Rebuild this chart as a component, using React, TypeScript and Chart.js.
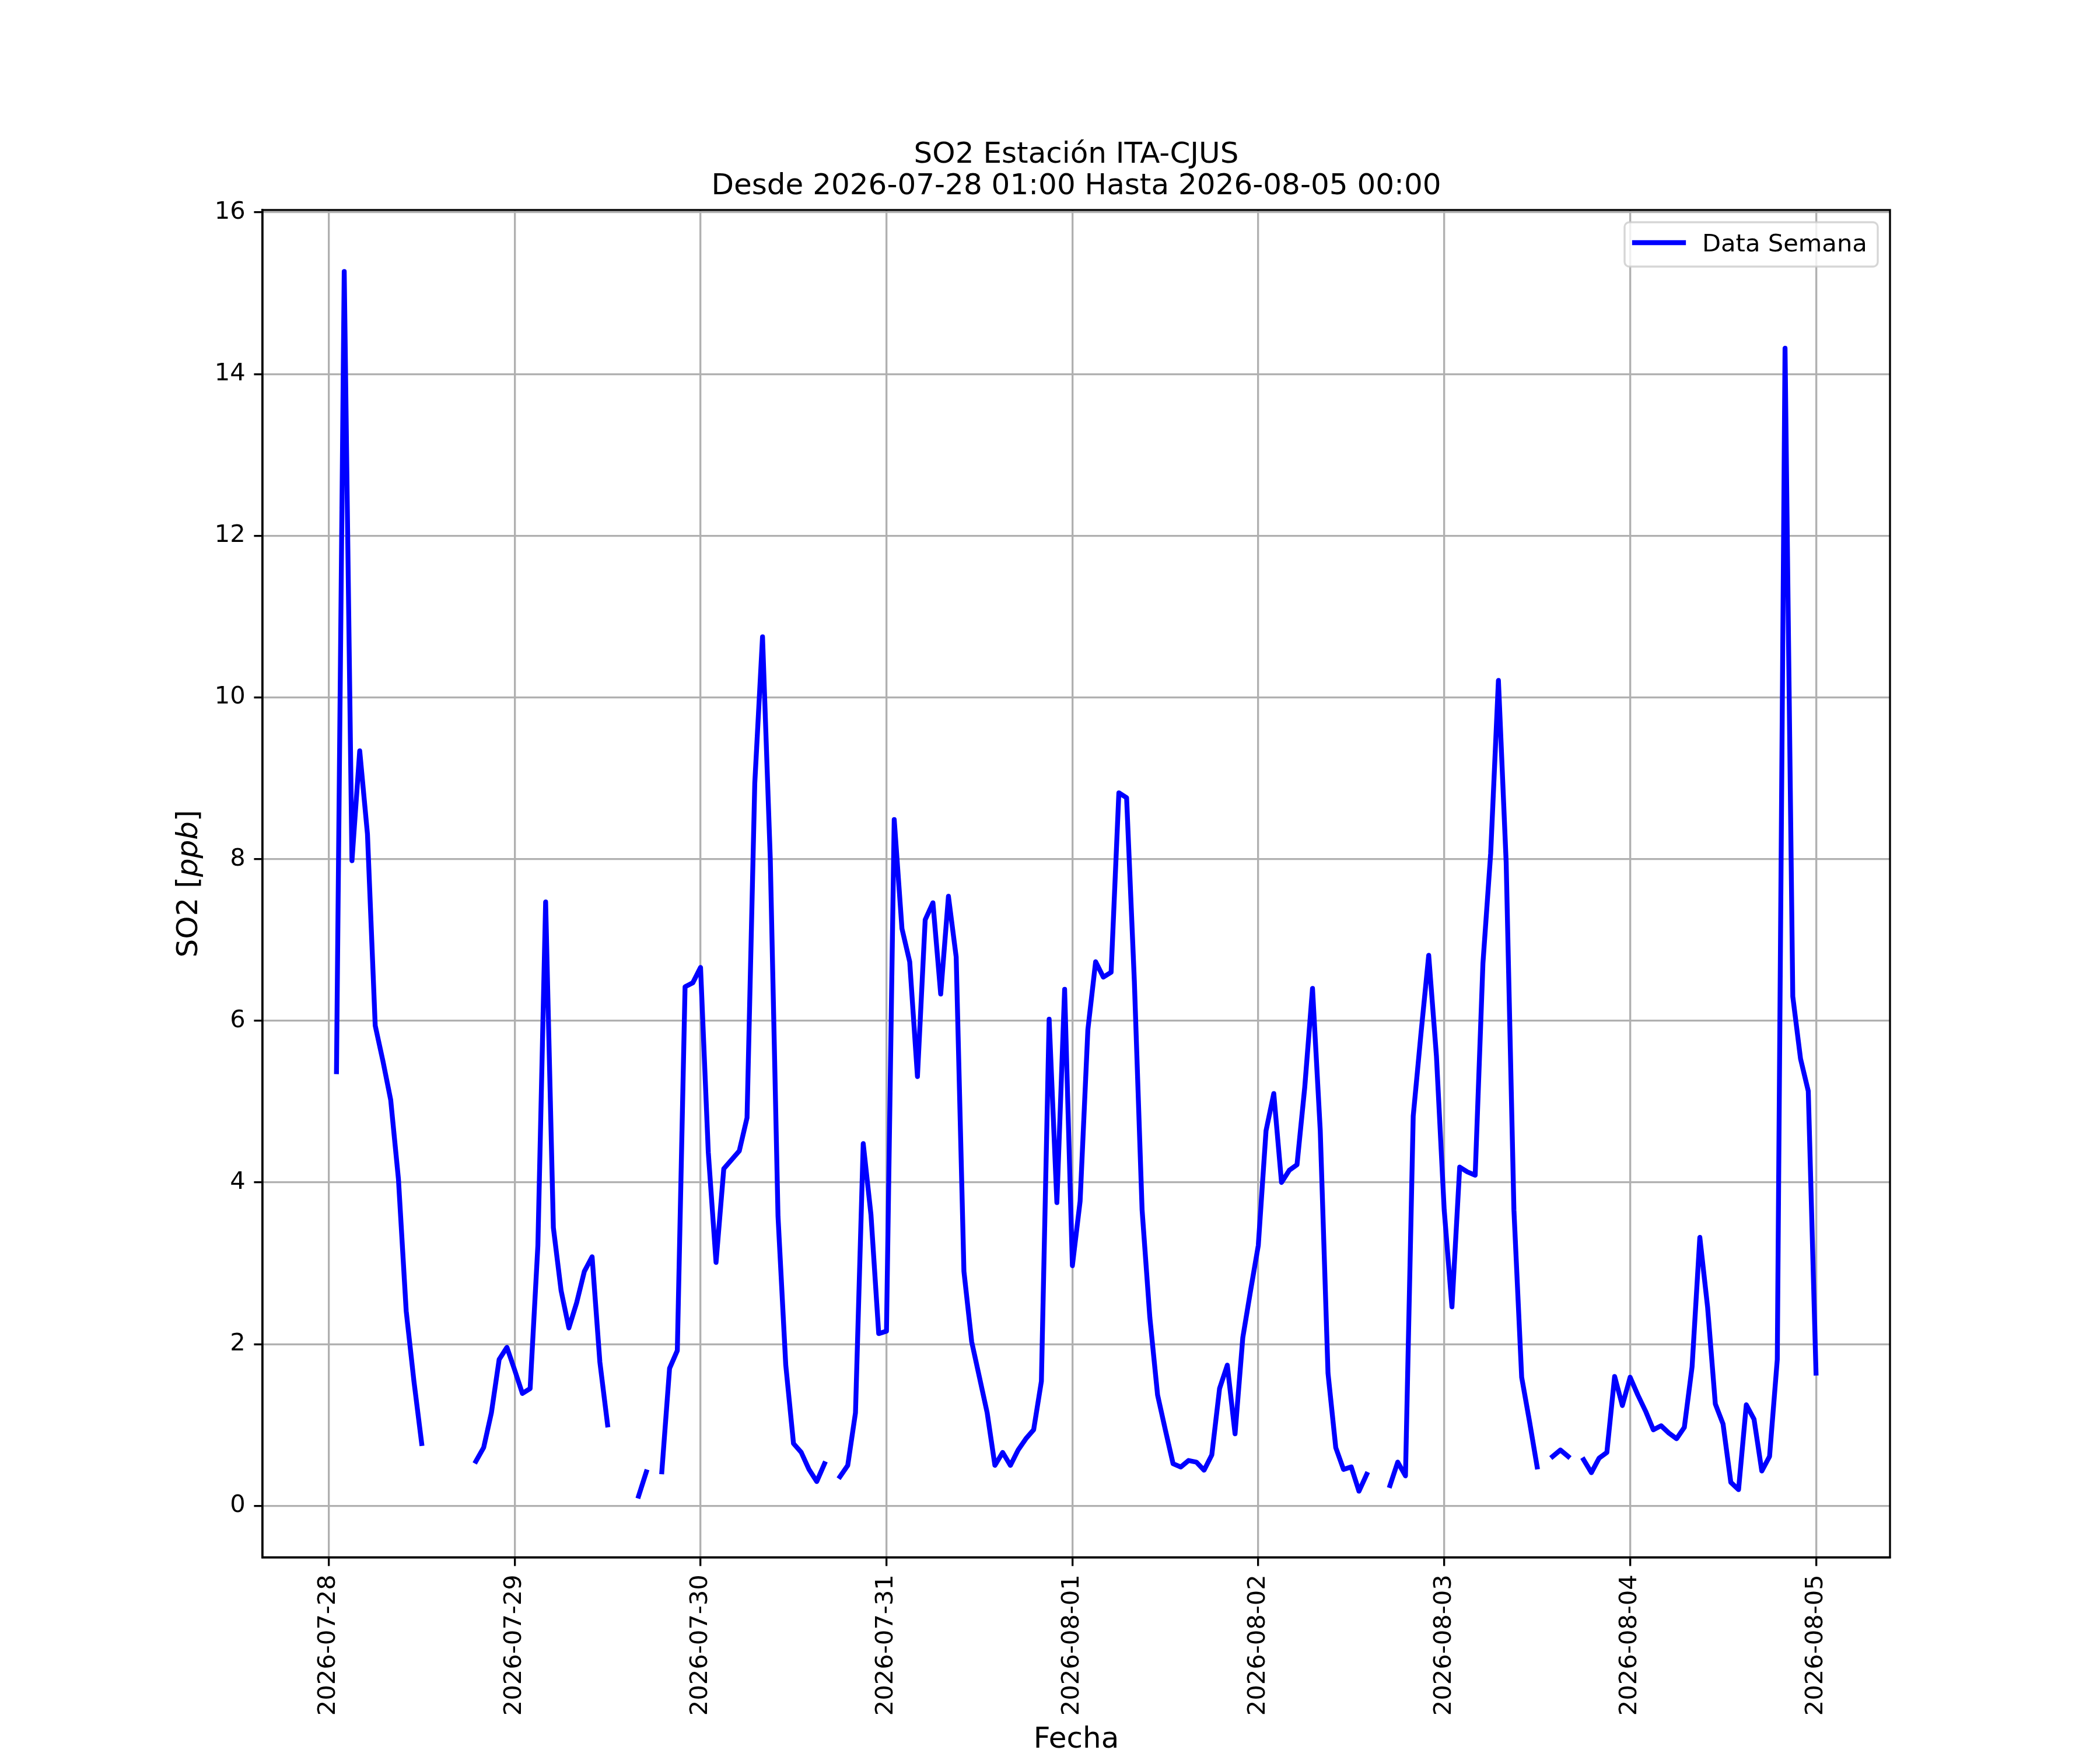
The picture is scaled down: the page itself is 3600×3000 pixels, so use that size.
import React, { useEffect, useRef } from 'react';
import Chart from 'chart.js/auto';

// fechas de los ticks (horas desde 2026-07-28 00:00)
const dayLabels = [
  '2026-07-28', '2026-07-29', '2026-07-30', '2026-07-31', '2026-08-01',
  '2026-08-02', '2026-08-03', '2026-08-04', '2026-08-05',
];
const dayTicks = [0, 24, 48, 72, 96, 120, 144, 168, 192];
const yTicks = [0, 2, 4, 6, 8, 10, 12, 14, 16];

const titleLines = ['SO2 Estación ITA-CJUS', 'Desde 2026-07-28 01:00 Hasta 2026-08-05 00:00'];
const seriesLabel = 'Data Semana';

// SO2 [ppb], un valor por hora desde 07-28 01:00 hasta 08-05 00:00 (null = sin dato)
const so2Values = [
  // 07-28
  5.37, 15.27, 7.98, 9.34, 8.31, 5.94, 5.5, 5.02, 4.04, 2.41, 1.54, 0.77,
  null, null, null, null, null, null, 0.55, 0.72, 1.15, 1.81, 1.96, 1.68,
  // 07-29
  1.39, 1.45, 3.22, 7.47, 3.44, 2.66, 2.2, 2.51, 2.9, 3.08, 1.78, 1.0,
  null, null, null, 0.12, 0.42, null, 0.42, 1.7, 1.92, 6.42, 6.47, 6.66,
  // 07-30
  4.37, 3.01, 4.17, 4.28, 4.39, 4.8, 8.94, 10.75, 8.01, 3.58, 1.74, 0.77,
  0.66, 0.45, 0.3, 0.52, null, 0.36, 0.5, 1.15, 4.48, 3.6, 2.13, 2.16,
  // 07-31
  8.49, 7.14, 6.73, 5.31, 7.25, 7.46, 6.33, 7.54, 6.79, 2.9, 2.03, 1.59,
  1.15, 0.5, 0.66, 0.5, 0.69, 0.83, 0.94, 1.54, 6.02, 3.75, 6.39, 2.97,
  // 08-01
  3.77, 5.89, 6.73, 6.54, 6.6, 8.82, 8.76, 6.49, 3.66, 2.33, 1.37, 0.94,
  0.52, 0.48, 0.56, 0.54, 0.44, 0.63, 1.45, 1.74, 0.89, 2.08, 2.66, 3.22,
  // 08-02
  4.64, 5.1, 4.0, 4.15, 4.22, 5.18, 6.4, 4.64, 1.64, 0.72, 0.45, 0.48,
  0.18, 0.39, null, null, 0.25, 0.54, 0.37, 4.82, 5.84, 6.81, 5.56, 3.66,
  // 08-03
  2.46, 4.19, 4.13, 4.09, 6.71, 8.07, 10.21, 7.96, 3.66, 1.59, 1.05, 0.48,
  null, 0.61, 0.69, 0.61, null, 0.57, 0.41, 0.59, 0.66, 1.6, 1.24, 1.59,
  // 08-04
  1.37, 1.17, 0.94, 0.99, 0.9, 0.83, 0.97, 1.72, 3.32, 2.46, 1.26, 1.01,
  0.29, 0.2, 1.25, 1.07, 0.43, 0.61, 1.81, 14.32, 6.3, 5.53, 5.13, 1.64,
];

const hours = so2Values.map((_, i) => i + 1);

const PT = 300 / 72;
const FONT = '"DejaVu Sans"';
const tickFont = { family: FONT, size: 10 * PT };

const mplDecor = {
  id: 'mplDecor',
  afterDraw(chart) {
    const { ctx, chartArea: a } = chart;
    const cx = (a.left + a.right) / 2;
    ctx.save();

    // marco de los ejes
    ctx.strokeStyle = '#000';
    ctx.lineWidth = 0.8 * PT;
    ctx.strokeRect(a.left, a.top, a.right - a.left, a.bottom - a.top);

    // titulo
    ctx.fillStyle = '#000';
    ctx.textAlign = 'center';
    ctx.textBaseline = 'alphabetic';
    ctx.font = `${12 * PT}px ${FONT}`;
    ctx.fillText(titleLines[0], cx, a.top - 81);
    ctx.fillText(titleLines[1], cx, a.top - 27);

    // eje x
    ctx.fillText('Fecha', cx, a.bottom + 326);

    // eje y: SO2 [$ppb$]
    ctx.save();
    ctx.translate(a.left - 112, (a.top + a.bottom) / 2);
    ctx.rotate(-Math.PI / 2);
    ctx.textAlign = 'left';
    const normal = `${12 * PT}px ${FONT}`;
    const italic = `italic ${12 * PT}px ${FONT}`;
    ctx.font = normal;
    const w1 = ctx.measureText('SO2 [').width;
    const w3 = ctx.measureText(']').width;
    ctx.font = italic;
    const w2 = ctx.measureText('ppb').width;
    let x = -(w1 + w2 + w3) / 2;
    ctx.font = normal;
    ctx.fillText('SO2 [', x, 0);
    x += w1;
    ctx.font = italic;
    ctx.fillText('ppb', x, 0);
    x += w2;
    ctx.font = normal;
    ctx.fillText(']', x, 0);
    ctx.restore();

    // leyenda
    const bx = a.right - 455;
    const by = a.top + 21;
    ctx.beginPath();
    ctx.roundRect(bx, by, 434, 76, 8);
    ctx.fillStyle = 'rgba(255,255,255,0.8)';
    ctx.fill();
    ctx.strokeStyle = 'rgba(204,204,204,0.8)';
    ctx.lineWidth = 0.8 * PT;
    ctx.stroke();

    ctx.beginPath();
    ctx.moveTo(bx + 17, by + 35);
    ctx.lineTo(bx + 101, by + 35);
    ctx.strokeStyle = '#0000ff';
    ctx.lineWidth = 2 * PT;
    ctx.lineCap = 'square';
    ctx.stroke();

    ctx.fillStyle = '#000';
    ctx.font = `${10 * PT}px ${FONT}`;
    ctx.textAlign = 'left';
    ctx.fillText(seriesLabel, bx + 133, by + 50);

    ctx.restore();
  },
};

const SO2Chart = () => {
  const chartRef = useRef(null);
  const chartInstance = useRef(null);

  useEffect(() => {
    document.body.style.margin = '0';
    if (chartInstance.current) {
      chartInstance.current.destroy();
    }

    const ctx = chartRef.current.getContext('2d');

    chartInstance.current = new Chart(ctx, {
      type: 'line',
      data: {
        datasets: [
          {
            label: seriesLabel,
            data: hours.map((h, i) => ({ x: h, y: so2Values[i] })),
            borderColor: '#0000ff',
            borderWidth: 2 * PT,
            borderJoinStyle: 'round',
            borderCapStyle: 'square',
            pointRadius: 0,
            fill: false,
            tension: 0,
            spanGaps: false,
          },
        ],
      },
      options: {
        responsive: false,
        animation: false,
        devicePixelRatio: 1,
        layout: { padding: { top: 360, right: 360, left: 0, bottom: 0 } },
        plugins: {
          legend: { display: false },
          title: { display: false },
          tooltip: { enabled: false },
        },
        scales: {
          x: {
            type: 'linear',
            min: -8.55,
            max: 201.55,
            afterFit: (scale) => {
              scale.height = 330;
            },
            afterBuildTicks: (scale) => {
              scale.ticks = dayTicks.map((v) => ({ value: v }));
            },
            ticks: {
              autoSkip: false,
              minRotation: 90,
              maxRotation: 90,
              padding: 3.5 * PT,
              color: '#000',
              font: tickFont,
              callback: (value, index) => dayLabels[index],
            },
            grid: {
              color: '#b0b0b0',
              lineWidth: 0.8 * PT,
              tickColor: '#000',
              tickWidth: 0.8 * PT,
              tickLength: 3.5 * PT,
            },
            border: { display: true, color: '#000', width: 0.8 * PT },
          },
          y: {
            type: 'linear',
            min: -0.64,
            max: 16.03,
            afterFit: (scale) => {
              scale.width = 450;
            },
            afterBuildTicks: (scale) => {
              scale.ticks = yTicks.map((v) => ({ value: v }));
            },
            ticks: {
              padding: 3.5 * PT,
              color: '#000',
              font: tickFont,
              callback: (value) => String(value),
            },
            grid: {
              color: '#b0b0b0',
              lineWidth: 0.8 * PT,
              tickColor: '#000',
              tickWidth: 0.8 * PT,
              tickLength: 3.5 * PT,
            },
            border: { display: true, color: '#000', width: 0.8 * PT },
          },
        },
      },
      plugins: [mplDecor],
    });

    return () => {
      if (chartInstance.current) {
        chartInstance.current.destroy();
        chartInstance.current = null;
      }
    };
  }, []);

  return (
    <div style={{ width: 3600, height: 3000, background: '#fff' }}>
      <canvas ref={chartRef} width={3600} height={3000} style={{ width: 3600, height: 3000 }}></canvas>
    </div>
  );
};

export default function App() {
  return <SO2Chart />;
}
